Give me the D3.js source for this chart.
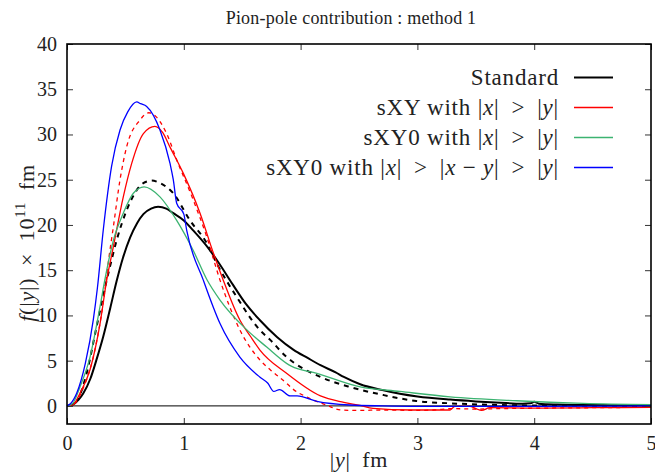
<!DOCTYPE html>
<html lang="en">
<head>
<meta charset="UTF-8">
<title>Pion-pole contribution</title>
<script src="https://d3js.org/d3.v7.min.js"></script>
<style>
  body { margin: 0; background: #fff; }
  text { font-family: "Liberation Serif", "DejaVu Serif", serif; fill: #222; }
</style>
</head>
<body>
<svg width="655" height="472"></svg>
<script>
// values: [ |y| fm , f(|y|) x 10^11 fm ]
let standard = [[0,0],[0.05,0.15],[0.1,0.7],[0.14,1.4],[0.2,3.0],[0.25,5.0],[0.311,7.7],[0.37,10.8],[0.425,13.8],[0.48,16.4],[0.54,18.6],[0.6,20.2],[0.654,21.2],[0.72,21.8],[0.78,22.0],[0.85,21.8],[0.91,21.3],[1.0,20.5],[1.08,19.4],[1.2,17.6],[1.3,15.8],[1.42,13.4],[1.53,11.3],[1.65,9.5],[1.8,7.6],[1.94,6.2],[2.06,5.3],[2.17,4.5],[2.3,3.7],[2.37,3.2],[2.51,2.4],[2.7,1.75],[2.85,1.35],[3.0,1.05],[3.28,0.7],[3.5,0.5],[3.71,0.35],[3.9,0.25],[3.97,0.3],[4.0,0.45],[4.04,0.25],[4.2,0.15],[4.42,0.1],[4.7,0.06],[5,0.04]];
let standardDash = [[0,0],[0.05,0.15],[0.1,0.9],[0.168,3.6],[0.254,8.8],[0.34,13.9],[0.368,15.4],[0.425,18.3],[0.51,21.6],[0.58,23.5],[0.65,24.6],[0.725,24.9],[0.8,24.6],[0.91,23.5],[1.053,20.5],[1.196,18.0],[1.28,15.8],[1.45,12.1],[1.65,8.4],[1.74,7.3],[1.88,5.4],[1.94,4.8],[2.17,3.2],[2.42,2.1],[2.71,1.2],[2.99,0.54],[3.28,0.29],[3.71,0.1],[4.2,0.02],[5,0]];
let sxy = [[0,0],[0.05,0.1],[0.111,1.4],[0.197,4.0],[0.283,9.1],[0.34,13.9],[0.397,17.6],[0.482,23.1],[0.554,26.8],[0.654,30.1],[0.753,30.9],[0.82,30.2],[0.882,28.6],[0.996,25.7],[1.139,21.3],[1.253,16.9],[1.338,13.9],[1.48,9.5],[1.57,7.7],[1.65,6.2],[1.88,3.6],[2.17,1.1],[2.37,0.4],[2.51,0.05],[2.62,-0.27],[2.94,-0.45],[3.1,-0.45],[3.28,-0.45],[3.32,-0.05],[3.45,-0.05],[3.5,-0.3],[3.55,-0.5],[3.62,-0.2],[4.0,-0.25],[4.5,-0.2],[5,-0.15]];
let sxyDash = [[0,0],[0.06,0.2],[0.14,2.0],[0.225,5.4],[0.311,11.5],[0.36,16.5],[0.397,19.8],[0.454,25.0],[0.51,28.6],[0.625,31.6],[0.7,32.4],[0.76,32.0],[0.853,30.1],[0.939,27.2],[1.08,22.8],[1.196,18.7],[1.31,13.9],[1.48,8.4],[1.65,5.1],[1.74,4.0],[1.88,2.5],[1.94,1.8],[2.05,1.0],[2.22,0.1],[2.34,-0.45],[2.5,-0.5],[2.71,-0.45],[3.0,-0.5],[3.14,-0.45],[3.3,-0.3],[3.5,-0.35],[3.71,-0.3],[4.0,-0.25],[4.5,-0.2],[5,-0.15]];
let sxy0 = [[0,0],[0.05,0.3],[0.111,2.1],[0.197,5.4],[0.283,11.0],[0.325,14.0],[0.397,18.3],[0.482,21.3],[0.568,23.5],[0.66,24.2],[0.796,23.1],[0.939,20.5],[1.08,17.2],[1.196,14.0],[1.31,11.7],[1.54,8.4],[1.71,6.5],[1.88,4.7],[1.92,4.4],[2.14,3.6],[2.51,2.1],[2.85,1.6],[3.28,1.0],[3.85,0.57],[4.42,0.29],[5,0.15]];
let sxy0Diag = [[0,0],[0.026,0.2],[0.083,1.4],[0.157,4.7],[0.225,9.5],[0.26,13.0],[0.311,19.5],[0.382,26.5],[0.454,30.5],[0.52,32.5],[0.597,33.6],[0.63,33.4],[0.682,33.1],[0.796,30.5],[0.882,26.8],[0.91,25.0],[0.939,22.4],[1.0,21.2],[1.025,19.4],[1.167,13.9],[1.31,9.1],[1.48,5.4],[1.65,3.2],[1.72,2.5],[1.77,1.6],[1.82,1.8],[1.91,1.1],[1.97,1.1],[2.14,0.5],[2.42,0.1],[2.7,0.0],[3.0,-0.05],[4,-0.05],[5,0]];

let xTicks = [0, 1, 2, 3, 4, 5];
let yTicks = [0, 5, 10, 15, 20, 25, 30, 35, 40];

let series = [
  { name: 'standard', data: standard, color: '#000000', width: 2, dash: null },
  { name: 'standardDash', data: standardDash, color: '#000000', width: 2, dash: '5,5' },
  { name: 'sxy', data: sxy, color: '#ff0000', width: 1.3, dash: null },
  { name: 'sxyDash', data: sxyDash, color: '#ff0000', width: 1.3, dash: '4,4' },
  { name: 'sxy0', data: sxy0, color: '#3cb371', width: 1.3, dash: null },
  { name: 'sxy0Diag', data: sxy0Diag, color: '#0000ff', width: 1.3, dash: null }
];

let W = 655, H = 472;
let m = { left: 67, right: 4, top: 44, bottom: 48 };
let svg = d3.select('svg');

let x = d3.scaleLinear().domain([0, 5]).range([m.left, W - m.right]);
let y = d3.scaleLinear().domain([-2, 40]).range([H - m.bottom, m.top]);

// zero line
svg.append('line')
  .attr('x1', x(0)).attr('x2', x(5)).attr('y1', y(0)).attr('y2', y(0))
  .attr('stroke', '#000').attr('stroke-width', 1);

let line = d3.line()
  .x(d => x(d[0]))
  .y(d => y(d[1]))
  .curve(d3.curveMonotoneX);

let plot = svg.append('g');
plot.selectAll('path')
  .data(series)
  .join('path')
  .attr('fill', 'none')
  .attr('stroke', d => d.color)
  .attr('stroke-width', d => d.width)
  .attr('stroke-dasharray', d => d.dash)
  .attr('d', d => line(d.data));

// axes with inward ticks, mirrored on top and right
let tick = 6;
let fmt = d => d;
let axB = d3.axisBottom(x).tickValues(xTicks).tickSizeInner(-tick).tickSizeOuter(0).tickPadding(12).tickFormat(fmt);
let axT = d3.axisTop(x).tickValues(xTicks).tickSizeInner(-tick).tickSizeOuter(0).tickFormat('');
let axL = d3.axisLeft(y).tickValues(yTicks).tickSizeInner(-tick).tickSizeOuter(0).tickPadding(10).tickFormat(fmt);
let axR = d3.axisRight(y).tickValues(yTicks).tickSizeInner(-tick).tickSizeOuter(0).tickFormat('');

svg.append('g').attr('transform', `translate(0,${H - m.bottom})`).call(axB);
svg.append('g').attr('transform', `translate(0,${m.top})`).call(axT);
svg.append('g').attr('transform', `translate(${m.left},0)`).call(axL);
svg.append('g').attr('transform', `translate(${W - m.right},0)`).call(axR);

svg.selectAll('.domain').remove();
svg.selectAll('.tick line').attr('stroke', '#333').attr('stroke-width', 1);
svg.selectAll('.tick text').attr('font-size', 20).attr('font-family', '"Liberation Serif", serif').attr('fill', '#222');

// frame
svg.append('rect')
  .attr('x', m.left).attr('y', m.top)
  .attr('width', W - m.left - m.right).attr('height', H - m.top - m.bottom)
  .attr('fill', 'none').attr('stroke', '#000').attr('stroke-width', 1.6);

// title
svg.append('text')
  .attr('x', 351).attr('y', 24)
  .attr('text-anchor', 'middle').attr('font-size', 18).attr('letter-spacing', 0.2)
  .text('Pion-pole contribution : method 1');

// x label
let xl = svg.append('text')
  .attr('x', 359).attr('y', 467)
  .attr('text-anchor', 'middle').attr('font-size', 22).attr('letter-spacing', 0.8);
xl.append('tspan').text('|');
xl.append('tspan').attr('font-style', 'italic').text('y');
xl.append('tspan').text('|\u2009 fm');

// y label
let yl = svg.append('text')
  .attr('transform', 'translate(34,243) rotate(-90)')
  .attr('text-anchor', 'middle').attr('font-size', 22).attr('letter-spacing', 0.8);
yl.append('tspan').attr('font-style', 'italic').text('f');
yl.append('tspan').text('(|');
yl.append('tspan').attr('font-style', 'italic').text('y');
yl.append('tspan').text('|)\u2009 \u00d7 \u200910');
yl.append('tspan').attr('font-size', 15).attr('dy', -9).text('11');
yl.append('tspan').attr('dy', 9).text('\u2009 fm');

// legend
let rel = '|\u2009 > \u2009|';
let legend = [
  { color: '#000000', width: 2, parts: [['Standard', false]] },
  { color: '#ff0000', width: 1.3, parts: [['sXY with |', false], ['x', true], [rel, false], ['y', true], ['|', false]] },
  { color: '#3cb371', width: 1.3, parts: [['sXY0 with |', false], ['x', true], [rel, false], ['y', true], ['|', false]] },
  { color: '#0000ff', width: 1.3, parts: [['sXY0 with |', false], ['x', true], [rel, false], ['x', true], [' \u2212 ', false], ['y', true], [rel, false], ['y', true], ['|', false]] }
];
let lg = svg.append('g').selectAll('g').data(legend).join('g')
  .attr('transform', (d, i) => `translate(0,${77.5 + i * 30})`);
lg.append('line')
  .attr('x1', 574).attr('x2', 613).attr('y1', 0).attr('y2', 0)
  .attr('stroke', d => d.color).attr('stroke-width', d => d.width);
lg.append('text')
  .attr('x', 559).attr('y', 7)
  .attr('text-anchor', 'end').attr('font-size', 23).attr('letter-spacing', 0.8)
  .each(function(d) {
    let t = d3.select(this);
    d.parts.forEach(p => {
      t.append('tspan').attr('font-style', p[1] ? 'italic' : null).text(p[0]);
    });
  });
</script>
</body>
</html>
